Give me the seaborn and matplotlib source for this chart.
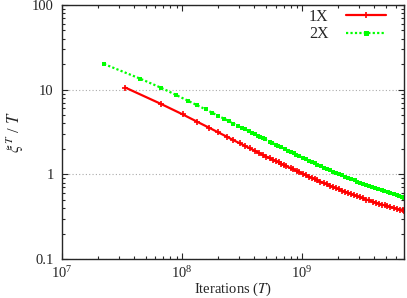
import numpy as np
import pandas as pd
import matplotlib
matplotlib.use("Agg")
import matplotlib.pyplot as plt
import seaborn as sns
from matplotlib.ticker import LogLocator, FuncFormatter, NullFormatter

# 1X run: iterations T and xi^T / T
red_T = [3.36e7, 6.71e7, 1.01e8, 1.34e8, 1.68e8, 2.01e8, 2.35e8, 2.68e8, 3.02e8, 3.36e8,
         3.69e8, 4.03e8, 4.36e8, 4.70e8, 5.03e8, 5.37e8, 5.70e8, 6.04e8, 6.38e8, 6.71e8,
         7.05e8, 7.38e8, 8.05e8, 8.39e8, 9.06e8, 9.40e8, 1.01e9, 1.07e9, 1.14e9, 1.21e9,
         1.28e9, 1.34e9, 1.41e9, 1.51e9, 1.61e9, 1.71e9, 1.81e9, 1.91e9, 2.01e9, 2.15e9,
         2.28e9, 2.42e9, 2.55e9, 2.72e9, 2.89e9, 3.05e9, 3.22e9, 3.42e9, 3.62e9, 3.86e9,
         4.09e9, 4.33e9, 4.60e9, 4.87e9, 5.13e9, 5.44e9, 5.77e9, 6.11e9, 6.48e9, 6.88e9, 7.08e9]
red_v = [10.6, 6.76, 5.11, 4.17, 3.55, 3.12, 2.79, 2.53, 2.33, 2.16,
         2.02, 1.9, 1.79, 1.7, 1.62, 1.55, 1.49, 1.43, 1.38, 1.33,
         1.29, 1.25, 1.18, 1.15, 1.09, 1.06, 1.02, 0.975, 0.938, 0.905,
         0.875, 0.847, 0.822, 0.789, 0.759, 0.732, 0.708, 0.686, 0.667, 0.643,
         0.622, 0.603, 0.586, 0.566, 0.549, 0.533, 0.519, 0.504, 0.491, 0.476,
         0.464, 0.452, 0.44, 0.43, 0.42, 0.411, 0.401, 0.393, 0.384, 0.376, 0.372]

# 2X run
green_T = [2.24e7, 4.47e7, 6.71e7, 8.95e7, 1.12e8, 1.34e8, 1.57e8, 1.79e8, 2.01e8, 2.24e8,
           2.46e8, 2.68e8, 2.91e8, 3.13e8, 3.36e8, 3.58e8, 3.80e8, 4.03e8, 4.25e8, 4.47e8,
           4.70e8, 4.92e8, 5.37e8, 5.59e8, 6.04e8, 6.26e8, 6.71e8, 7.16e8, 7.61e8, 8.05e8,
           8.50e8, 8.95e8, 9.40e8, 1.01e9, 1.07e9, 1.14e9, 1.21e9, 1.28e9, 1.34e9, 1.43e9,
           1.52e9, 1.61e9, 1.70e9, 1.81e9, 1.92e9, 2.04e9, 2.15e9, 2.28e9, 2.42e9, 2.57e9,
           2.73e9, 2.89e9, 3.06e9, 3.24e9, 3.42e9, 3.62e9, 3.85e9, 4.07e9, 4.32e9, 4.59e9,
           4.85e9, 5.15e9, 5.44e9, 5.77e9, 6.11e9, 6.46e9, 6.85e9, 7.09e9]
green_v = [20.1, 13.5, 10.5, 8.63, 7.4, 6.52, 5.85, 5.32, 4.89, 4.54,
           4.24, 3.98, 3.76, 3.57, 3.4, 3.24, 3.1, 2.98, 2.87, 2.76,
           2.67, 2.58, 2.43, 2.36, 2.24, 2.18, 2.08, 1.99, 1.91, 1.83,
           1.77, 1.71, 1.65, 1.58, 1.51, 1.45, 1.4, 1.35, 1.3, 1.25,
           1.2, 1.16, 1.12, 1.08, 1.04, 1.01, 0.975, 0.94, 0.909, 0.877,
           0.848, 0.822, 0.795, 0.771, 0.749, 0.727, 0.705, 0.685, 0.665, 0.645,
           0.628, 0.611, 0.596, 0.58, 0.565, 0.552, 0.539, 0.531]

labels = ["1X", "2X"]
colors = {"1X": "#ff0000", "2X": "#00ff00"}

df = pd.concat([pd.DataFrame({"T": red_T, "v": red_v, "run": "1X"}),
                pd.DataFrame({"T": green_T, "v": green_v, "run": "2X"})])

sns.set_style("ticks")
plt.rcParams["font.family"] = ["Liberation Serif", "DejaVu Serif"]
plt.rcParams["mathtext.fontset"] = "stix"
fs = 10.5

fig = plt.figure(figsize=(4.07, 2.98), dpi=100)
ax = fig.add_axes([62 / 407, 39 / 298, 342 / 407, 254 / 298])
sns.lineplot(data=df, x="T", y="v", hue="run", style="run", hue_order=labels,
             palette=colors, dashes={"1X": "", "2X": (1, 1)}, markers=False,
             linewidth=1.6, legend=False, ax=ax)
# gnuplot style point markers (seaborn edges them in white by default)
ax.lines[0].set(marker="+", markersize=3.8, markeredgewidth=1.2,
                markeredgecolor=colors["1X"])
ax.lines[1].set(marker="s", markersize=3.4, markeredgewidth=0,
                markerfacecolor=colors["2X"])

ax.set_xscale("log")
ax.set_yscale("log")
ax.set_xlim(1e7, 7.05e9)
ax.set_ylim(0.1, 100)
ax.yaxis.set_major_formatter(FuncFormatter(lambda v, p: "%g" % v))
ax.yaxis.set_minor_formatter(NullFormatter())
ax.xaxis.set_minor_locator(LogLocator(10, subs=np.arange(2, 10)))
ax.yaxis.set_minor_locator(LogLocator(10, subs=np.arange(2, 10)))
ax.tick_params(which="both", direction="in", top=True, right=True, labelsize=fs, width=0.8)
ax.tick_params(which="major", length=4.5)
ax.tick_params(which="minor", length=2.5)
ax.tick_params(axis="x", which="major", pad=4.5)
ax.tick_params(axis="y", which="major", pad=6)
ax.grid(axis="y", which="major", ls=(0, (1, 2)), color="#aaaaaa", lw=0.8)
for sp in ax.spines.values():
    sp.set_linewidth(1.0)
ax.set_xlabel("Iterations ($T$)", fontsize=fs, labelpad=0)
ax.set_ylabel(r"$\xi^{T}$ / $T$", fontsize=12, labelpad=4)

h = [plt.Line2D([], [], color=colors["1X"], lw=1.6, marker="+", ms=3.8, mew=1.2),
     plt.Line2D([], [], color=colors["2X"], lw=1.6, ls=(0, (1, 1)), marker="s", ms=3.6, mew=0)]
ax.legend(h, labels, loc="upper right", bbox_to_anchor=(386 / 407, 1 - 9 / 298),
          bbox_transform=fig.transFigure, frameon=False, markerfirst=False,
          numpoints=1, handlelength=2.5, handletextpad=1.1, fontsize=11.5,
          borderaxespad=0, borderpad=0, labelspacing=0.08)
fig.savefig("out.png")
